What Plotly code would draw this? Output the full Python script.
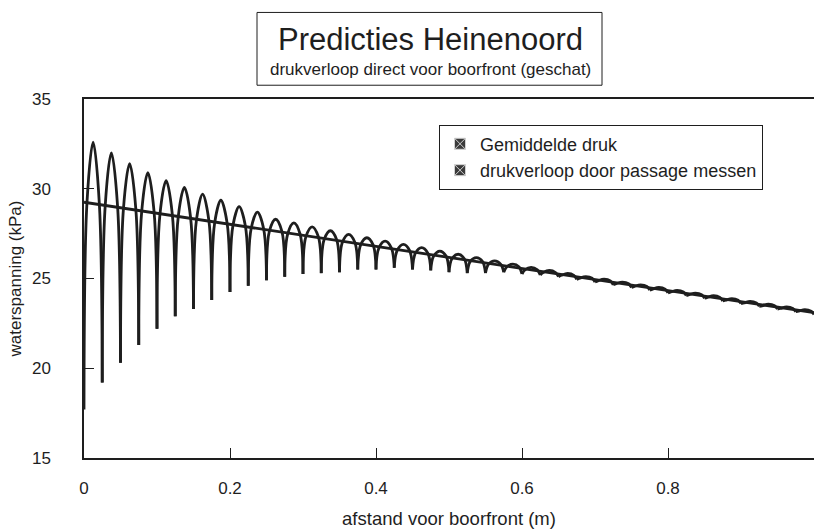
import plotly.graph_objects as go

# Tick labels
x_ticks = [0, 0.2, 0.4, 0.6, 0.8]
x_tick_text = ["0", "0.2", "0.4", "0.6", "0.8"]
y_ticks = [15, 20, 25, 30, 35]

# Average pressure (straight line)
mean_x = [0.0, 1.0]
mean_y = [29.25, 23.1]

# Pressure course while the cutting blades pass: troughs (cusps) ...
trough_x = [0.000, 0.025, 0.050, 0.075, 0.100, 0.125, 0.150, 0.175, 0.200, 0.225,
            0.250, 0.275, 0.300, 0.325, 0.350, 0.375, 0.400, 0.425, 0.450, 0.475,
            0.500, 0.525, 0.550, 0.575, 0.600, 0.625, 0.650, 0.675, 0.700, 0.725,
            0.750, 0.775, 0.800, 0.825, 0.850, 0.875, 0.900, 0.925, 0.950, 0.975,
            1.000]
trough_y = [17.7, 19.2, 20.3, 21.3, 22.2, 22.9, 23.3, 23.8, 24.25, 24.6,
            24.9, 25.1, 25.25, 25.3, 25.35, 25.5, 25.5, 25.6, 25.5, 25.45,
            25.35, 25.3, 25.3, 25.35, 25.25, 25.2, 25.1, 24.95, 24.8, 24.65,
            24.5, 24.35, 24.2, 24.05, 23.9, 23.75, 23.6, 23.45, 23.3, 23.15,
            23.0]
# ... arch tops ...
peak_x = [0.0125, 0.0375, 0.0625, 0.0875, 0.1125, 0.1375, 0.1625, 0.1875, 0.2125, 0.2375,
          0.2625, 0.2875, 0.3125, 0.3375, 0.3625, 0.3875, 0.4125, 0.4375, 0.4625, 0.4875,
          0.5125, 0.5375, 0.5625, 0.5875, 0.6125, 0.6375, 0.6625, 0.6875, 0.7125, 0.7375,
          0.7625, 0.7875, 0.8125, 0.8375, 0.8625, 0.8875, 0.9125, 0.9375, 0.9625, 0.9875]
peak_y = [32.6, 32.0, 31.4, 30.9, 30.45, 30.07, 29.7, 29.36, 29.0, 28.7,
          28.3, 28.1, 27.88, 27.66, 27.46, 27.27, 27.08, 26.9, 26.72, 26.53,
          26.35, 26.16, 25.98, 25.8, 25.62, 25.45, 25.28, 25.11, 24.96, 24.8,
          24.65, 24.5, 24.34, 24.19, 24.04, 23.88, 23.73, 23.57, 23.42, 23.27]
# ... and the level where each arch crosses the average line
cross_y = [29.17, 29.02, 28.87, 28.71, 28.56, 28.40, 28.25, 28.10, 27.94, 27.79,
           27.64, 27.48, 27.33, 27.17, 27.02, 26.87, 26.71, 26.56, 26.41, 26.25,
           26.10, 25.94, 25.79, 25.64, 25.48, 25.33, 25.18, 25.02, 24.87, 24.71,
           24.56, 24.41, 24.25, 24.10, 23.95, 23.79, 23.64, 23.48, 23.33, 23.18]
CROSS_HALF_WIDTH = 0.0085  # half width of an arch where it meets the average line

INK = "#1e1e1e"
FONT = "Liberation Sans, Arial, sans-serif"

# Each arch is its own smoothed segment so the troughs stay sharp
wave_x, wave_y = [], []
for i in range(len(peak_x)):
    wave_x += [trough_x[i], peak_x[i] - CROSS_HALF_WIDTH, peak_x[i],
               peak_x[i] + CROSS_HALF_WIDTH, trough_x[i + 1], None]
    wave_y += [trough_y[i], cross_y[i], peak_y[i], cross_y[i], trough_y[i + 1], None]

fig = go.Figure()
fig.add_trace(go.Scatter(
    x=wave_x, y=wave_y, mode="lines", connectgaps=False,
    line=dict(color=INK, width=2.8, shape="spline", smoothing=1.0),
    showlegend=False, hoverinfo="skip"))
fig.add_trace(go.Scatter(
    x=mean_x, y=mean_y, mode="lines",
    line=dict(color=INK, width=2.8), showlegend=False))

# Legend entries with hatched square symbols
for name in ["Gemiddelde druk", "drukverloop door passage messen"]:
    fig.add_trace(go.Scatter(
        x=[None], y=[None], mode="markers", name=name,
        marker=dict(symbol="square-x", size=11, color="#3a3a3a",
                    line=dict(color="#d0d0d0", width=1))))

L, R, T, B = 84, 0, 99, 65
W, H = 814, 529
pw, ph = W - L - R, H - T - B


def px_x(p):
    return (p - L) / pw


def px_y(p):
    return (H - B - p) / ph


fig.update_layout(
    width=W, height=H,
    margin=dict(l=L, r=R, t=T, b=B),
    paper_bgcolor="white", plot_bgcolor="white",
    font=dict(family=FONT, color=INK, size=17),
    legend=dict(x=px_x(439), y=px_y(125), xanchor="left", yanchor="top",
                bgcolor="white", bordercolor=INK, borderwidth=1,
                font=dict(size=18), tracegroupgap=0),
    shapes=[dict(type="rect", xref="paper", yref="paper",
                 x0=px_x(257), x1=px_x(602), y0=px_y(85), y1=px_y(11),
                 line=dict(color=INK, width=1))],
    annotations=[
        dict(text="Predicties Heinenoord", xref="paper", yref="paper",
             x=px_x(430), y=px_y(38), xanchor="center", yanchor="middle",
             showarrow=False, font=dict(size=31, family=FONT, color=INK)),
        dict(text="drukverloop direct voor boorfront (geschat)", xref="paper", yref="paper",
             x=px_x(430), y=px_y(69), xanchor="center", yanchor="middle",
             showarrow=False, font=dict(size=17, family=FONT, color=INK)),
    ],
)

fig.update_xaxes(
    range=[0, 1], tickvals=x_ticks, ticktext=x_tick_text,
    ticks="inside", ticklen=10, tickcolor=INK, tickwidth=1,
    showline=True, linecolor=INK, linewidth=1.5, mirror=True,
    showgrid=False, zeroline=False, ticklabelstandoff=14,
    tickfont=dict(size=17),
    title=dict(text="afstand voor boorfront (m)", font=dict(size=18.5), standoff=18))
fig.update_yaxes(
    range=[15, 35], tickvals=y_ticks,
    ticks="inside", ticklen=10, tickcolor=INK, tickwidth=1,
    showline=True, linecolor=INK, linewidth=1.5,
    showgrid=False, zeroline=False, ticklabelstandoff=28,
    tickfont=dict(size=17),
    title=dict(text="waterspanning (kPa)", font=dict(size=17), standoff=6))

fig.write_html("out.html")
